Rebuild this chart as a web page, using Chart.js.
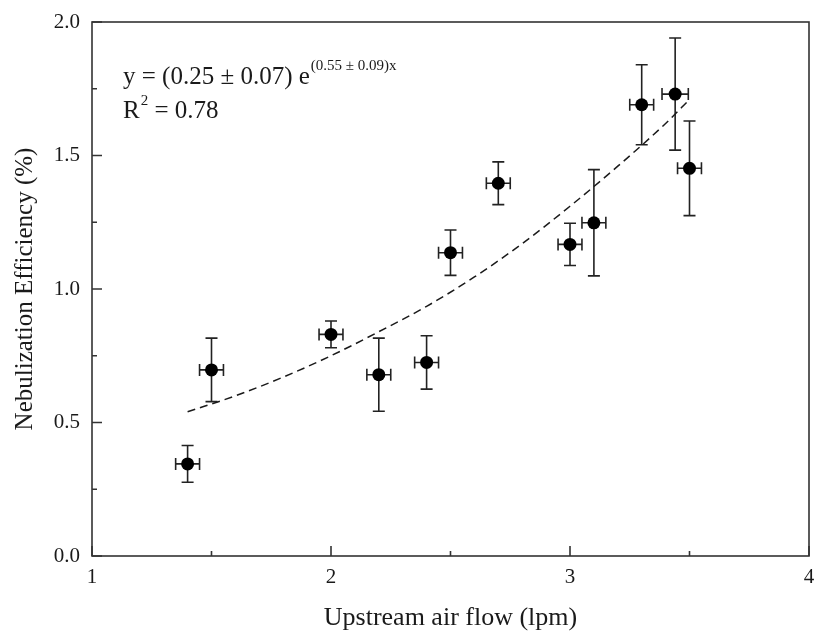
<!DOCTYPE html>
<html lang="en">
<head>
<meta charset="UTF-8">
<title>Nebulization Efficiency</title>
<script src="https://cdn.jsdelivr.net/npm/chart.js"></script>
<style>
    html, body {
        margin: 0;
        padding: 0;
        background-color: #fff;
    }
    #wrap {
        width: 817px;
        height: 637px;
    }
</style>
</head>
<body>
<div id="wrap"><canvas id="chart" width="817" height="637"></canvas></div>
<script>
// measured points (x: upstream air flow, y: efficiency) with error bars
const flow        = [1.40, 1.50, 2.00, 2.20, 2.40, 2.50, 2.70, 3.00, 3.10, 3.30, 3.44, 3.50];
const flowError   = [0.05, 0.05, 0.05, 0.05, 0.05, 0.05, 0.05, 0.05, 0.05, 0.05, 0.055, 0.05];
const efficiency  = [0.345, 0.697, 0.830, 0.679, 0.725, 1.136, 1.396, 1.167, 1.248, 1.690, 1.730, 1.452];
const effError    = [0.069, 0.119, 0.050, 0.137, 0.100, 0.085, 0.080, 0.079, 0.199, 0.150, 0.210, 0.177];

// dashed fit curve
const fitFlow       = [1.4, 1.6, 1.8, 2.0, 2.2, 2.4, 2.6, 2.8, 3.0, 3.2, 3.4, 3.5];
const fitEfficiency = [0.54, 0.60, 0.67, 0.75, 0.84, 0.935, 1.045, 1.17, 1.31, 1.46, 1.62, 1.71];

const xTicks = [1, 2, 3, 4];
const xMinor = [1.5, 2.5, 3.5];
const yTicks = [0, 0.5, 1.0, 1.5, 2.0];
const yMinor = [0.25, 0.75, 1.25, 1.75];

const eqMain = 'y = (0.25 \u00b1 0.07) e';
const eqExp  = '(0.55 \u00b1 0.09)x';
const r2Text = ' = 0.78';

const SERIF = '"Liberation Serif", "Times New Roman", serif';
const INK = '#1a1a1a';
const FRAME = '#333';

const pointData = flow.map((x, i) => ({ x: x, y: efficiency[i] }));
const fitData = fitFlow.map((x, i) => ({ x: x, y: fitEfficiency[i] }));

// error bars, frame, inward ticks and the fit equation
const extras = {
    id: 'extras',
    beforeDatasetsDraw(chart) {
        const ctx = chart.ctx;
        const xs = chart.scales.x, ys = chart.scales.y;
        const cap = 6;
        ctx.save();
        ctx.strokeStyle = '#222';
        ctx.lineWidth = 1.6;
        flow.forEach((fx, i) => {
            const px = xs.getPixelForValue(fx);
            const py = ys.getPixelForValue(efficiency[i]);
            const top = ys.getPixelForValue(efficiency[i] + effError[i]);
            const bot = ys.getPixelForValue(efficiency[i] - effError[i]);
            const lft = xs.getPixelForValue(fx - flowError[i]);
            const rgt = xs.getPixelForValue(fx + flowError[i]);
            ctx.beginPath();
            ctx.moveTo(px, top); ctx.lineTo(px, bot);
            ctx.moveTo(px - cap, top); ctx.lineTo(px + cap, top);
            ctx.moveTo(px - cap, bot); ctx.lineTo(px + cap, bot);
            ctx.moveTo(lft, py); ctx.lineTo(rgt, py);
            ctx.moveTo(lft, py - cap); ctx.lineTo(lft, py + cap);
            ctx.moveTo(rgt, py - cap); ctx.lineTo(rgt, py + cap);
            ctx.stroke();
        });
        ctx.restore();
    },
    afterDraw(chart) {
        const ctx = chart.ctx;
        const a = chart.chartArea;
        const xs = chart.scales.x, ys = chart.scales.y;
        ctx.save();
        ctx.strokeStyle = FRAME;
        ctx.lineWidth = 1.6;
        ctx.strokeRect(a.left, a.top, a.right - a.left, a.bottom - a.top);

        ctx.beginPath();
        xTicks.forEach(v => {
            const p = xs.getPixelForValue(v);
            ctx.moveTo(p, a.bottom); ctx.lineTo(p, a.bottom - 10);
        });
        xMinor.forEach(v => {
            const p = xs.getPixelForValue(v);
            ctx.moveTo(p, a.bottom); ctx.lineTo(p, a.bottom - 5);
        });
        yTicks.forEach(v => {
            const p = ys.getPixelForValue(v);
            ctx.moveTo(a.left, p); ctx.lineTo(a.left + 10, p);
        });
        yMinor.forEach(v => {
            const p = ys.getPixelForValue(v);
            ctx.moveTo(a.left, p); ctx.lineTo(a.left + 5, p);
        });
        ctx.stroke();

        // equation text
        const x0 = a.left + 31, y0 = a.top + 62, y1 = a.top + 96;
        ctx.fillStyle = INK;
        ctx.textBaseline = 'alphabetic';
        ctx.textAlign = 'left';
        ctx.font = '25px ' + SERIF;
        ctx.fillText(eqMain, x0, y0);
        let w = ctx.measureText(eqMain).width;
        ctx.font = '15px ' + SERIF;
        ctx.fillText(eqExp, x0 + w + 1, y0 - 14);

        ctx.font = '25px ' + SERIF;
        ctx.fillText('R', x0, y1);
        w = ctx.measureText('R').width;
        ctx.font = '15px ' + SERIF;
        ctx.fillText('2', x0 + w + 1, y1 - 13);
        const w2 = ctx.measureText('2').width;
        ctx.font = '25px ' + SERIF;
        ctx.fillText(r2Text, x0 + w + w2 + 1, y1);
        ctx.restore();
    }
};

const ctx = document.getElementById('chart').getContext('2d');
const chart = new Chart(ctx, {
    type: 'scatter',
    data: {
        datasets: [
            {
                label: 'fit',
                data: fitData,
                showLine: true,
                borderColor: '#1a1a1a',
                borderWidth: 1.5,
                borderDash: [8, 5],
                pointRadius: 0,
                cubicInterpolationMode: 'monotone',
                fill: false
            },
            {
                label: 'measured',
                data: pointData,
                showLine: false,
                pointRadius: 6.5,
                pointBackgroundColor: '#000',
                pointBorderColor: '#000',
                pointBorderWidth: 0
            }
        ]
    },
    options: {
        responsive: false,
        animation: false,
        devicePixelRatio: 1,
        layout: { padding: { top: 22, right: 8, left: 0, bottom: 0 } },
        plugins: {
            legend: { display: false },
            tooltip: { enabled: false }
        },
        scales: {
            x: {
                type: 'linear',
                min: 1,
                max: 4,
                afterBuildTicks: s => { s.ticks = xTicks.map(v => ({ value: v })); },
                afterFit: s => { s.height = 81; s.paddingLeft = 0; s.paddingRight = 0; },
                grid: { display: false, drawTicks: false },
                border: { display: false },
                ticks: {
                    padding: 9,
                    color: INK,
                    font: { family: SERIF, size: 21 },
                    callback: v => String(v)
                },
                title: {
                    display: true,
                    text: 'Upstream air flow (lpm)',
                    color: INK,
                    font: { family: SERIF, size: 26 },
                    padding: { top: 0, bottom: 3 }
                }
            },
            y: {
                type: 'linear',
                min: 0,
                max: 2,
                afterBuildTicks: s => { s.ticks = yTicks.map(v => ({ value: v })); },
                afterFit: s => { s.width = 92; s.paddingTop = 0; s.paddingBottom = 0; },
                grid: { display: false, drawTicks: false },
                border: { display: false },
                ticks: {
                    padding: 12,
                    color: INK,
                    font: { family: SERIF, size: 21 },
                    callback: v => Number(v).toFixed(1)
                },
                title: {
                    display: true,
                    text: 'Nebulization Efficiency (%)',
                    color: INK,
                    font: { family: SERIF, size: 25 },
                    padding: { top: 10, bottom: 0 }
                }
            }
        }
    },
    plugins: [extras]
});
</script>
</body>
</html>
